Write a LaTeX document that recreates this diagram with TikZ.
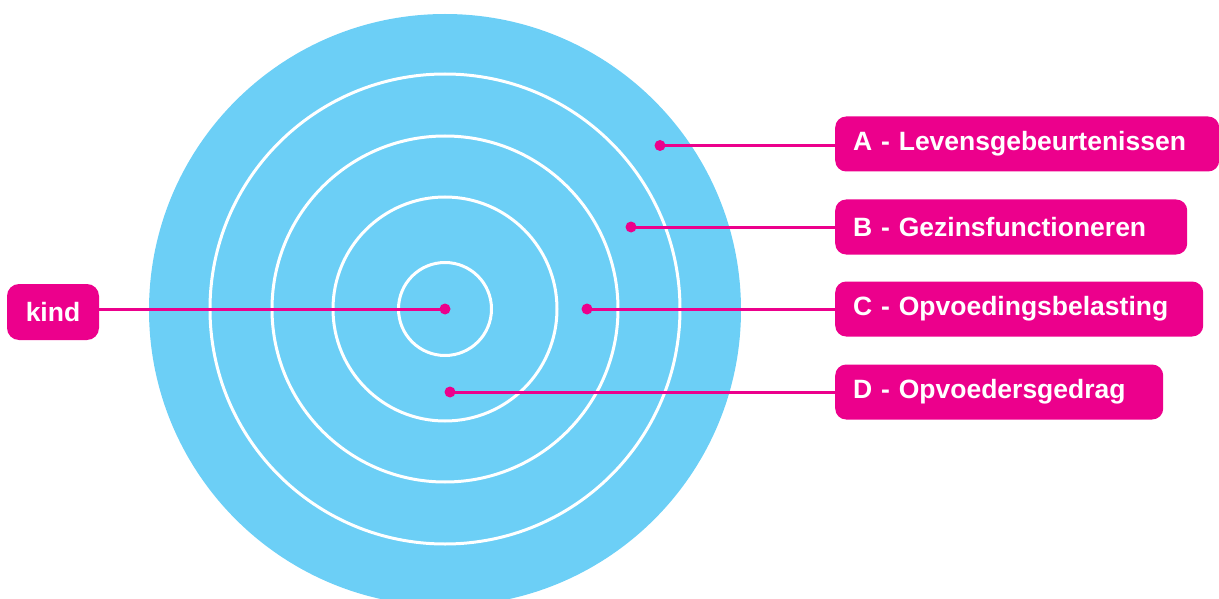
\documentclass[tikz,border=0pt]{standalone}
\usepackage{fontspec}
\setmainfont{Liberation Sans}
\definecolor{skyblue}{HTML}{6CCFF6}
\definecolor{mag}{HTML}{EC008C}
\begin{document}
\begin{tikzpicture}[x=1pt,y=-1pt,
  lab/.style={fill=mag, rounded corners=11pt, text=white, font=\bfseries\fontsize{26.5}{30}\selectfont,
    minimum height=55pt, inner xsep=18pt, inner ysep=0pt, anchor=west, align=left},
  ring/.style={draw=white, line width=3pt},
  conn/.style={draw=mag, line width=3pt},
  dot/.style={circle, fill=mag, inner sep=0pt, minimum size=11pt}]
\useasboundingbox (0,0) rectangle (1219,599);
\begin{scope}
\clip (0,0) rectangle (1219,599);
\fill[skyblue] (445,310) circle (296pt);
\end{scope}
\draw[ring] (445,309) circle (235pt);
\draw[ring] (445,309) circle (173pt);
\draw[ring] (445,309) circle (112pt);
\draw[ring] (445,309) circle (46.5pt);
\node[dot] (dk) at (445,309) {};
\node[dot] (da) at (660,145.5) {};
\node[dot] (db) at (631,227) {};
\node[dot] (dc) at (587,309) {};
\node[dot] (dd) at (450,392) {};
\node[lab, text width=348pt] (a) at (835,144) {A - Levensgebeurtenissen};
\node[lab, text width=316pt] (b) at (835,227) {B - Gezinsfunctioneren};
\node[lab, text width=332pt] (c) at (835,309) {C - Opvoedingsbelasting};
\node[lab, text width=292pt] (d) at (835,392) {D - Opvoedersgedrag};
\node[fill=mag, rounded corners=12pt, text=white, font=\bfseries\fontsize{26.5}{30}\selectfont,
  minimum height=56pt, minimum width=92pt, inner sep=0pt] (k) at (53,312) {kind};
\draw[conn] (da.center) -- (a.west |- da.center);
\draw[conn] (db.center) -- (b.west |- db.center);
\draw[conn] (dc.center) -- (c.west |- dc.center);
\draw[conn] (dd.center) -- (d.west |- dd.center);
\draw[conn] (dk.center) -- (k.east |- dk.center);
\end{tikzpicture}
\end{document}
